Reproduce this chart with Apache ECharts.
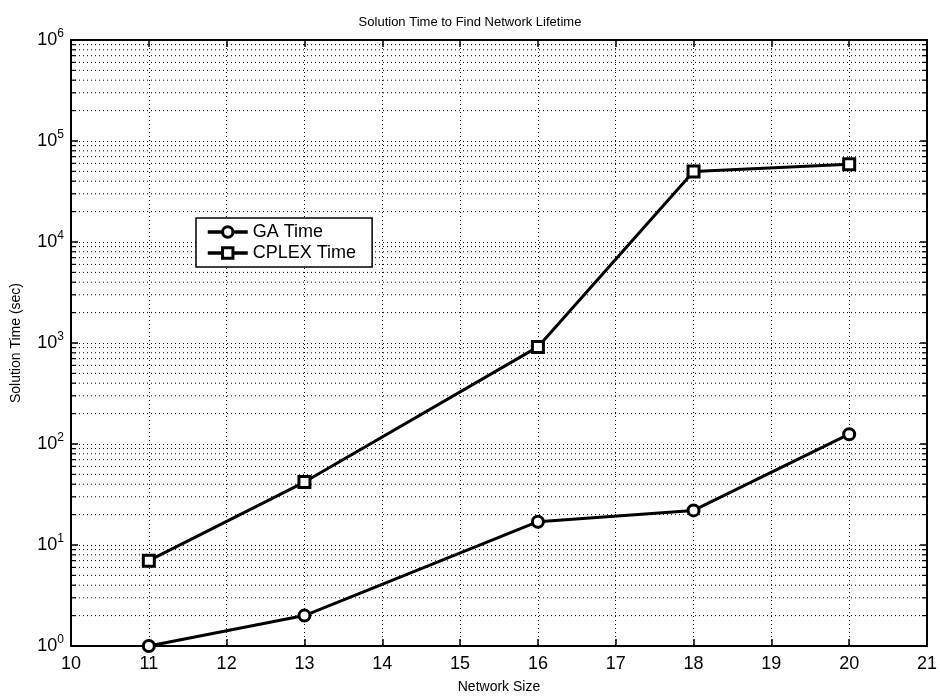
<!DOCTYPE html>
<html><head><meta charset="utf-8">
<script src="https://cdn.jsdelivr.net/npm/echarts@6/dist/echarts.min.js"></script>
<style>html,body{margin:0;padding:0;background:#fff}#c{width:940px;height:699px}</style>
</head><body><div id="c"></div>
<script>
const networkSize = [11, 13, 16, 18, 20];
const gaTime = [1, 2, 17, 22, 125];
const cplexTime = [7, 42, 915, 50000, 59000];
const xTicks = [10, 11, 12, 13, 14, 15, 16, 17, 18, 19, 20, 21];
const decades = [1, 10, 100, 1000, 10000, 100000];
const minorMult = [2, 3, 4, 5, 6, 7, 8, 9];

const minorVals = [];
decades.forEach(d => minorMult.forEach(m => minorVals.push(d * m)));

const font = 'Arial, "Liberation Sans", Helvetica, sans-serif';
const chart = echarts.init(document.getElementById('c'));
chart.setOption({
  animation: false,
  backgroundColor: '#fff',
  title: {
    text: 'Solution Time to Find Network Lifetime',
    left: 'center', top: 11,
    textStyle: { fontFamily: font, fontSize: 13, fontWeight: 'normal', color: '#000' }
  },
  legend: {
    left: 196, top: 218, orient: 'vertical',
    backgroundColor: '#fff', borderColor: '#000', borderWidth: 1.5,
    padding: [5, 16, 5, 10], itemGap: 3, itemWidth: 40, itemHeight: 13,
    lineStyle: { width: 3.5, color: '#000' },
    itemStyle: { color: '#fff', borderColor: '#000', borderWidth: 3 },
    textStyle: { fontFamily: font, fontSize: 18, color: '#000' },
    data: ['GA Time', 'CPLEX Time']
  },
  grid: { left: 71, right: 13, top: 40, bottom: 50, show: false },
  xAxis: [{
    type: 'value', min: 10, max: 21, interval: 1,
    name: 'Network Size', nameLocation: 'middle', nameGap: 34,
    nameTextStyle: { fontFamily: font, fontSize: 14, color: '#000' },
    axisLine: { show: true, onZero: false, lineStyle: { color: '#000', width: 2 } },
    axisTick: { show: true, inside: true, length: 7, lineStyle: { color: '#000', width: 1.5 } },
    axisLabel: { fontFamily: font, fontSize: 18, color: '#000', margin: 9,
      formatter: v => xTicks.includes(v) ? String(v) : '' },
    splitLine: { show: true, lineStyle: { color: '#000', type: [1, 3], width: 1 } }
  }, {
    type: 'value', min: 10, max: 21, interval: 1, position: 'top',
    axisLine: { show: true, onZero: false, lineStyle: { color: '#000', width: 2 } },
    axisTick: { show: true, inside: true, length: 7, lineStyle: { color: '#000', width: 1.5 } },
    axisLabel: { show: false }, splitLine: { show: false }
  }],
  yAxis: [{
    type: 'log', logBase: 10, min: 1, max: 1000000,
    name: 'Solution Time (sec)', nameLocation: 'middle', nameGap: 48,
    nameTextStyle: { fontFamily: font, fontSize: 14, color: '#000' },
    axisLine: { show: true, onZero: false, lineStyle: { color: '#000', width: 2 } },
    axisTick: { show: true, inside: true, length: 7, lineStyle: { color: '#000', width: 1.5 } },
    axisLabel: {
      margin: 7,
      formatter: v => '{b|10}{s|' + Math.round(Math.log10(v)) + '}',
      rich: {
        b: { fontFamily: font, fontSize: 18, color: '#000' },
        s: { fontFamily: font, fontSize: 12, color: '#000', verticalAlign: 'top', padding: [0, 0, 12, 0] }
      }
    },
    splitLine: { show: true, lineStyle: { color: '#000', type: [1, 3], width: 1 } }
  }, {
    type: 'log', logBase: 10, min: 1, max: 1000000, position: 'right',
    axisLine: { show: true, onZero: false, lineStyle: { color: '#000', width: 2 } },
    axisTick: { show: true, inside: true, length: 7, lineStyle: { color: '#000', width: 1.5 } },
    axisLabel: { show: false }, splitLine: { show: false }
  }],
  series: [{
    type: 'custom', silent: true, z: 1,
    data: minorVals.map(v => [10, v]),
    encode: { x: 0, y: 1 },
    renderItem: function (params, api) {
      const v = api.value(1);
      const a = api.coord([10, v]);
      const b = api.coord([21, v]);
      return {
        type: 'group', children: [
          { type: 'line', shape: { x1: a[0], y1: a[1], x2: b[0], y2: b[1] },
            style: { stroke: '#000', lineWidth: 1, lineDash: [1, 3] } },
          { type: 'line', shape: { x1: a[0], y1: a[1], x2: a[0] + 5, y2: a[1] },
            style: { stroke: '#000', lineWidth: 1.2 } },
          { type: 'line', shape: { x1: b[0], y1: b[1], x2: b[0] - 5, y2: b[1] },
            style: { stroke: '#000', lineWidth: 1.2 } }
        ]
      };
    }
  }, {
    name: 'GA Time', type: 'line', z: 5,
    data: networkSize.map((x, i) => [x, gaTime[i]]),
    symbol: 'circle', symbolSize: 11, showSymbol: true,
    lineStyle: { color: '#000', width: 3 },
    itemStyle: { color: '#fff', borderColor: '#000', borderWidth: 3 }
  }, {
    name: 'CPLEX Time', type: 'line', z: 5,
    data: networkSize.map((x, i) => [x, cplexTime[i]]),
    symbol: 'rect', symbolSize: 11, showSymbol: true,
    lineStyle: { color: '#000', width: 3 },
    itemStyle: { color: '#fff', borderColor: '#000', borderWidth: 3 }
  }]
});
</script></body></html>
